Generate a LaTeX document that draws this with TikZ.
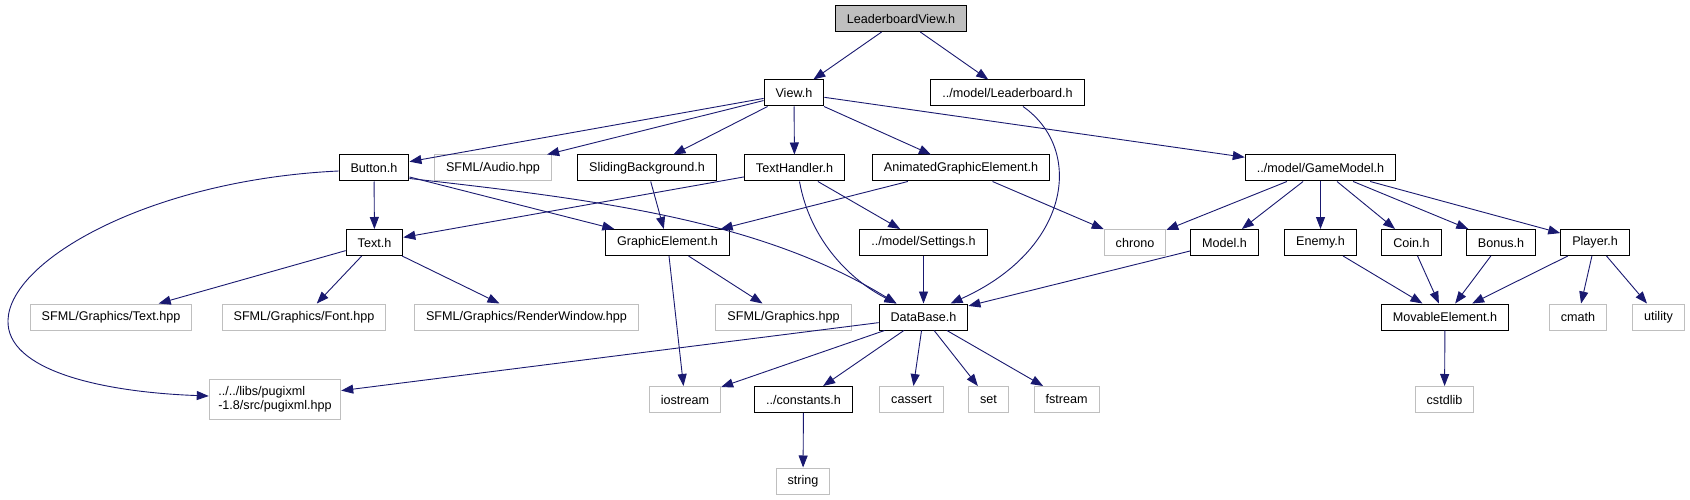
\documentclass[tikz,border=0pt]{standalone}
\usepackage{fontspec}
\setmainfont{Liberation Sans}
\usetikzlibrary{arrows.meta}
\definecolor{cnavy}{HTML}{191970}
\definecolor{cgray}{HTML}{BFBFBF}
\tikzset{
  hdr/.style={draw=black,line width=1pt,fill=white,minimum height=26pt,
    inner xsep=11.5pt,inner ysep=0pt},
  sys/.style={hdr,draw=cgray},
  root/.style={hdr,fill=cgray},
  dep/.style={draw=cnavy,line width=0.9pt,-{Triangle[length=12pt,width=9pt]}}
}
\begin{document}
\begin{tikzpicture}[x=1pt,y=-1pt,font=\fontsize{12.6}{14}\selectfont]
    \path[fill=white,use as bounding box] (0,0) rectangle (1690,500);
    % ---- top: the file itself and what it pulls in directly
    \node[root] (root) at (901,18.5) {LeaderboardView.h};
    \node[hdr] (view) at (794,93) {View.h};
    \node[hdr] (lboard) at (1007.5,93) {../model/Leaderboard.h};
    % ---- second row
    \node[hdr] (button) at (374,168) {Button.h};
    \node[sys] (audio) at (493,168) {SFML/Audio.hpp};
    \node[hdr] (sliding) at (647,168) {SlidingBackground.h};
    \node[hdr] (thandler) at (794.5,168) {TextHandler.h};
    \node[hdr] (anim) at (961,168) {AnimatedGraphicElement.h};
    \node[hdr] (gmodel) at (1320.5,168) {../model/GameModel.h};
    % ---- third row
    \node[hdr] (text) at (374.5,242.5) {Text.h};
    \node[hdr] (gelem) at (667.5,242.5) {GraphicElement.h};
    \node[hdr] (settings) at (923.5,242.5) {../model/Settings.h};
    \node[sys] (chrono) at (1135,242.5) {chrono};
    \node[hdr] (model) at (1224.5,242.5) {Model.h};
    \node[hdr] (enemy) at (1320.5,242.5) {Enemy.h};
    \node[hdr] (coin) at (1411.5,242.5) {Coin.h};
    \node[hdr] (bonus) at (1501,242.5) {Bonus.h};
    \node[hdr] (player) at (1595,242.5) {Player.h};
    % ---- fourth row
    \node[sys] (gtext) at (111,317) {SFML/Graphics/Text.hpp};
    \node[sys] (gfont) at (304,317) {SFML/Graphics/Font.hpp};
    \node[sys] (grwin) at (526.5,317) {SFML/Graphics/RenderWindow.hpp};
    \node[sys] (graphics) at (783.5,317) {SFML/Graphics.hpp};
    \node[hdr] (dbase) at (923.5,317) {DataBase.h};
    \node[hdr] (movable) at (1445,317) {MovableElement.h};
    \node[sys] (cmath) at (1578,317) {cmath};
    \node[sys] (utility) at (1658.5,317) {utility};
    % ---- fifth row and below
    \node[sys,align=left,minimum height=40pt,inner xsep=9pt] (pugi) at (275,399)
      {../../libs/pugixml\\-1.8/src/pugixml.hpp};
    \node[sys] (iostream) at (685,399.5) {iostream};
    \node[hdr] (consts) at (803.5,399.5) {../constants.h};
    \node[sys] (cassert) at (911.5,399.5) {cassert};
    \node[sys] (nset) at (988.5,399.5) {set};
    \node[sys] (fstream) at (1066.5,399.5) {fstream};
    \node[sys] (cstdlib) at (1444.5,399.5) {cstdlib};
    \node[sys] (nstring) at (803,481) {string};
    % straight includes
    \foreach \a/\b in {root/view,root/lboard,view/button,view/audio,view/sliding,
        view/thandler,view/anim,view/gmodel,button/text,button/gelem,sliding/gelem,
        thandler/text,thandler/settings,anim/gelem,anim/chrono,gmodel/chrono,
        gmodel/model,gmodel/enemy,gmodel/coin,gmodel/bonus,gmodel/player,
        text/gtext,text/gfont,gelem/graphics,gelem/iostream,settings/dbase,
        model/dbase,enemy/movable,coin/movable,bonus/movable,player/movable,
        player/cmath,player/utility,movable/cstdlib,dbase/pugi,dbase/iostream,
        dbase/consts,dbase/cassert,dbase/nset,dbase/fstream,consts/nstring}
      \draw[dep] (\a) -- (\b);
    \draw[dep] (text) -- ([xshift=-27pt]grwin.north);
    % curved includes
    \draw[dep] ([xshift=15.5pt]lboard.south) .. controls (1085,150) and (1070,250)
      .. ([xshift=27pt]dbase.north);
    \draw[dep] ([yshift=3pt]button.south east) .. controls (600,200) and (760,220)
      .. ([xshift=-27pt]dbase.north);
    \draw[dep] ([xshift=5pt]thandler.south) .. controls (810,240) and (850,280)
      .. ([xshift=-27pt]dbase.north);
    \draw[dep] ([yshift=-3pt]button.west) .. controls (150,180) and (10,260) .. (8,320)
      .. controls (6,370) and (100,392) .. ([yshift=3pt]pugi.west);
  \end{tikzpicture}
\end{document}
